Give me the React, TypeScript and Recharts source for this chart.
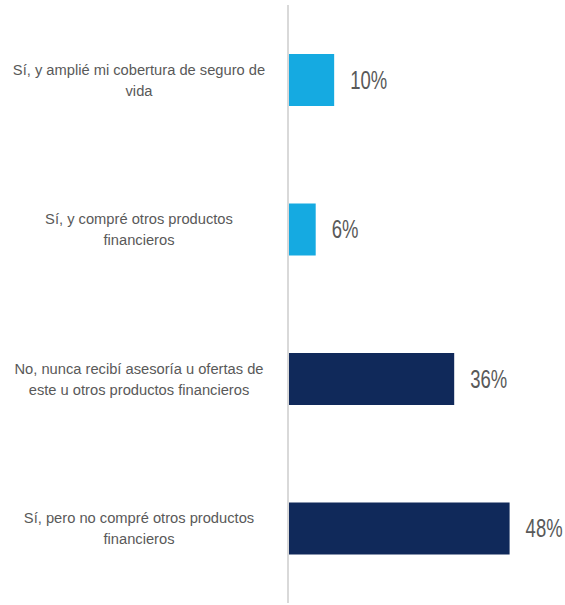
import React from "react";
import { BarChart, Bar, XAxis, YAxis, Cell, LabelList } from "recharts";

const categories = [
  "Sí, y amplié mi cobertura de seguro de\nvida",
  "Sí, y compré otros productos\nfinancieros",
  "No, nunca recibí asesoría u ofertas de\neste u otros productos financieros",
  "Sí, pero no compré otros productos\nfinancieros",
];
const values = [10, 6, 36, 48];
const colors = ["#15AAE1", "#15AAE1", "#10295A", "#10295A"];

const data = categories.map((c, i) => ({ name: c, value: values[i] }));

const FONT = "'Liberation Sans', Arial, sans-serif";

const CatTick = (props: any) => {
  const { y, payload } = props;
  const lines = String(payload.value).split("\n");
  const lh = 21;
  const start = -((lines.length - 1) * lh) / 2;
  return (
    <text
      transform={`translate(139, ${y}) scale(1, 1.05)`}
      x={0}
      y={start}
      textAnchor="middle"
      fill="#595959"
      fontSize={14.7}
      fontFamily={FONT}
      dominantBaseline="central"
    >
      {lines.map((l, i) => (
        <tspan key={i} x={0} y={start + (i * lh) / 1.05} dominantBaseline="central">
          {l}
        </tspan>
      ))}
    </text>
  );
};

const ValLabel = (props: any) => {
  const { x, y, width, height, value } = props;
  return (
    <text
      transform={`translate(${x + width + 16}, ${y + height / 2}) scale(0.74, 1)`}
      x={0}
      y={0}
      fill="#595959"
      fontSize={25}
      fontFamily={FONT}
      dominantBaseline="central"
    >
      {value}%
    </text>
  );
};

export default function App() {
  return (
    <div style={{ position: "absolute", left: 0, top: 0, width: 565, height: 605, background: "#fff" }}>
      <BarChart
        width={565}
        height={605}
        data={data}
        layout="vertical"
        margin={{ top: 5, right: 0, bottom: 2, left: 0 }}
      >
        <XAxis type="number" domain={[0, 60]} hide />
        <YAxis
          type="category"
          dataKey="name"
          width={288}
          tick={<CatTick />}
          tickLine={false}
          axisLine={{ stroke: "#D9D9D9", strokeWidth: 2 }}
          interval={0}
        />
        <Bar dataKey="value" barSize={52} isAnimationActive={false}>
          {data.map((d, i) => (
            <Cell key={i} fill={colors[i]} />
          ))}
          <LabelList dataKey="value" content={<ValLabel />} />
        </Bar>
      </BarChart>
    </div>
  );
}
